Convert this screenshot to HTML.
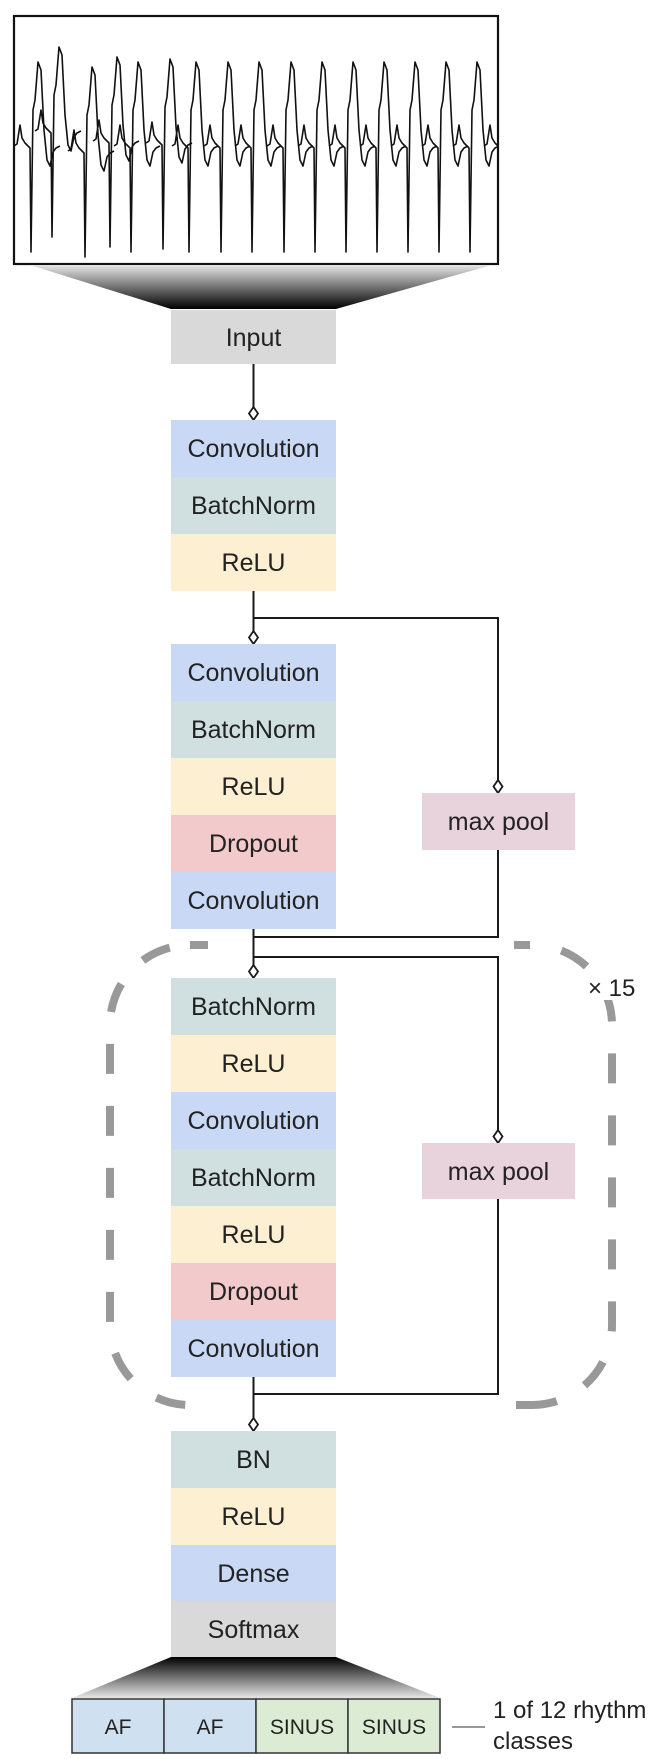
<!DOCTYPE html>
<html><head><meta charset="utf-8"><style>
html,body{margin:0;padding:0;background:#fff}
svg{display:block}
text{font-family:"Liberation Sans",sans-serif;fill:#222}
</style></head><body>
<svg width="669" height="1759" viewBox="0 0 669 1759" xmlns="http://www.w3.org/2000/svg">
<defs>
<linearGradient id="g1" x1="0" y1="0" x2="0" y2="1">
<stop offset="0" stop-color="#e6e6e6"/><stop offset="1" stop-color="#000"/></linearGradient>
<linearGradient id="g2" x1="0" y1="1" x2="0" y2="0">
<stop offset="0" stop-color="#e6e6e6"/><stop offset="1" stop-color="#000"/></linearGradient>
<clipPath id="cb"><rect x="15" y="18" width="482" height="245"/></clipPath>
<path id="beat" d="M-16 146 L-13 144 L-10 125 L-8 138 L-5 143 L-2 146 L0 148 L1 252 L3 110 L5 100 L8 62 L11 70 L14 130 L17 160 L20 166 L23 152 L26 148 L30 146" fill="none" stroke="#111" stroke-width="1.6" stroke-linejoin="round"/>
</defs>

<!-- ECG box -->
<rect x="14" y="16" width="484" height="248" fill="#fff" stroke="#111" stroke-width="2.2"/>
<g clip-path="url(#cb)">
<use href="#beat" x="30" y="0"/>
<use href="#beat" x="51" y="-15"/>
<use href="#beat" x="84" y="5"/>
<use href="#beat" x="109" y="-5"/>
<use href="#beat" x="130" y="0"/>
<use href="#beat" x="162" y="-3"/>
<use href="#beat" x="188" y="0"/>
<use href="#beat" x="220" y="0"/>
<use href="#beat" x="251" y="0"/>
<use href="#beat" x="283" y="0"/>
<use href="#beat" x="314" y="0"/>
<use href="#beat" x="345" y="0"/>
<use href="#beat" x="376" y="0"/>
<use href="#beat" x="407" y="0"/>
<use href="#beat" x="438" y="0"/>
<use href="#beat" x="469" y="0"/>
<use href="#beat" x="500" y="0"/>
</g>

<!-- top trapezoid -->
<polygon points="30,265 492,265 336,309 171,309" fill="url(#g1)"/>

<!-- dashed loop -->
<rect x="110" y="945" width="502" height="460" rx="80" ry="80" fill="none" stroke="#999" stroke-width="8" stroke-dasharray="30 32"/>
<rect x="208" y="935" width="306" height="20" fill="#fff"/>
<rect x="208" y="1395" width="306" height="20" fill="#fff"/>
<rect x="190" y="941" width="14" height="8" fill="#999"/>
<rect x="516" y="1401" width="12" height="8" fill="#999"/>
<rect x="584" y="970" width="66" height="30" fill="#fff"/>
<text x="588" y="996" font-size="24">× 15</text>

<!-- connectors -->
<g stroke="#1a1a1a" stroke-width="2" fill="none">
<line x1="253.5" y1="364" x2="253.5" y2="408"/>
<line x1="253.5" y1="591" x2="253.5" y2="632"/>
<polyline points="253.5,618 498,618 498,781"/>
<line x1="253.5" y1="929" x2="253.5" y2="966"/>
<polyline points="498,850 498,937 253.5,937"/>
<polyline points="253.5,957 498,957 498,1131"/>
<line x1="253.5" y1="1377" x2="253.5" y2="1419"/>
<polyline points="498,1199 498,1394 253.5,1394"/>
</g>
<g fill="#fff" stroke="#1a1a1a" stroke-width="1.8">
<polygon points="253.5,407 258,413.5 253.5,420 249,413.5"/>
<polygon points="253.5,631 258,637.5 253.5,644 249,637.5"/>
<polygon points="498,780 502.5,786.5 498,793 493.5,786.5"/>
<polygon points="253.5,965 258,971.5 253.5,978 249,971.5"/>
<polygon points="498,1130 502.5,1136.5 498,1143 493.5,1136.5"/>
<polygon points="253.5,1418 258,1424.5 253.5,1431 249,1424.5"/>
</g>

<!-- boxes -->
<g font-size="25" text-anchor="middle">
<rect x="171" y="310" width="165" height="54" fill="#d9d9d9"/><text x="253.5" y="346">Input</text>

<rect x="171" y="420" width="165" height="57" fill="#c9d9f5"/><text x="253.5" y="457">Convolution</text>
<rect x="171" y="477" width="165" height="57" fill="#d0e0e0"/><text x="253.5" y="514">BatchNorm</text>
<rect x="171" y="534" width="165" height="57" fill="#fdf0d2"/><text x="253.5" y="571">ReLU</text>

<rect x="171" y="644" width="165" height="57" fill="#c9d9f5"/><text x="253.5" y="681">Convolution</text>
<rect x="171" y="701" width="165" height="57" fill="#d0e0e0"/><text x="253.5" y="738">BatchNorm</text>
<rect x="171" y="758" width="165" height="57" fill="#fdf0d2"/><text x="253.5" y="795">ReLU</text>
<rect x="171" y="815" width="165" height="57" fill="#f3cacc"/><text x="253.5" y="852">Dropout</text>
<rect x="171" y="872" width="165" height="57" fill="#c9d9f5"/><text x="253.5" y="909">Convolution</text>

<rect x="422" y="793" width="153" height="57" fill="#e8d3dc"/><text x="498.5" y="830">max pool</text>

<rect x="171" y="978" width="165" height="57" fill="#d0e0e0"/><text x="253.5" y="1015">BatchNorm</text>
<rect x="171" y="1035" width="165" height="57" fill="#fdf0d2"/><text x="253.5" y="1072">ReLU</text>
<rect x="171" y="1092" width="165" height="57" fill="#c9d9f5"/><text x="253.5" y="1129">Convolution</text>
<rect x="171" y="1149" width="165" height="57" fill="#d0e0e0"/><text x="253.5" y="1186">BatchNorm</text>
<rect x="171" y="1206" width="165" height="57" fill="#fdf0d2"/><text x="253.5" y="1243">ReLU</text>
<rect x="171" y="1263" width="165" height="57" fill="#f3cacc"/><text x="253.5" y="1300">Dropout</text>
<rect x="171" y="1320" width="165" height="57" fill="#c9d9f5"/><text x="253.5" y="1357">Convolution</text>

<rect x="422" y="1143" width="153" height="56" fill="#e8d3dc"/><text x="498.5" y="1180">max pool</text>

<rect x="171" y="1431" width="165" height="57" fill="#d0e0e0"/><text x="253.5" y="1468">BN</text>
<rect x="171" y="1488" width="165" height="57" fill="#fdf0d2"/><text x="253.5" y="1525">ReLU</text>
<rect x="171" y="1545" width="165" height="56" fill="#c9d9f5"/><text x="253.5" y="1582">Dense</text>
<rect x="171" y="1601" width="165" height="56" fill="#d9d9d9"/><text x="253.5" y="1638">Softmax</text>
</g>

<!-- bottom trapezoid -->
<polygon points="171,1657 336,1657 440,1698 72,1698" fill="url(#g2)"/>

<!-- output cells -->
<g stroke="#333" stroke-width="1.5">
<rect x="72" y="1699" width="92" height="54" fill="#cfe0f0"/>
<rect x="164" y="1699" width="92" height="54" fill="#cfe0f0"/>
<rect x="256" y="1699" width="92" height="54" fill="#dcecd4"/>
<rect x="348" y="1699" width="92" height="54" fill="#dcecd4"/>
</g>
<g font-size="21" text-anchor="middle">
<text x="118" y="1734">AF</text>
<text x="210" y="1734">AF</text>
<text x="302" y="1734">SINUS</text>
<text x="394" y="1734">SINUS</text>
</g>
<line x1="452" y1="1727" x2="485" y2="1727" stroke="#999" stroke-width="2"/>
<text x="493" y="1718" font-size="24">1 of 12 rhythm</text>
<text x="493" y="1749" font-size="24">classes</text>
</svg>
</body></html>
